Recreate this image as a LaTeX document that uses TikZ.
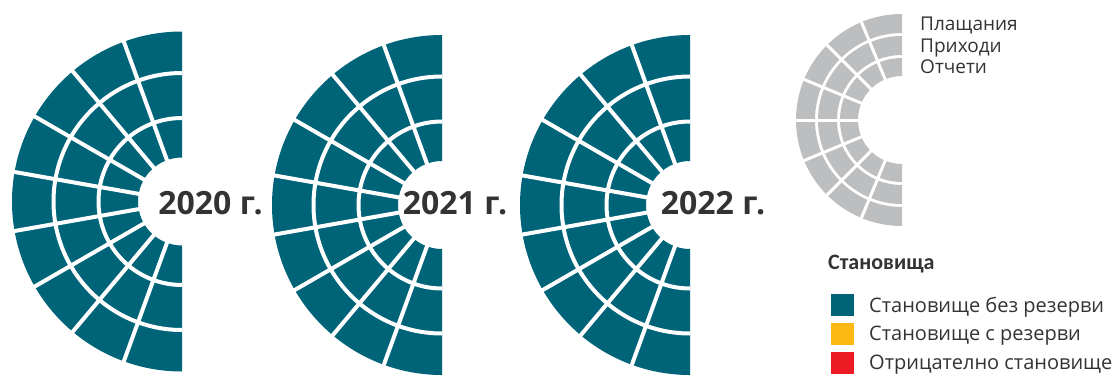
\documentclass[tikz,border=0pt]{standalone}
\usepackage{fontspec}
\setmainfont{Open Sans}
\newfontfamily\carlito{Carlito}
\definecolor{tealc}{HTML}{006479}
\definecolor{grayc}{HTML}{BDBEC0}
\definecolor{yellowc}{HTML}{FDB913}
\definecolor{redc}{HTML}{ED1C24}
\definecolor{textc}{HTML}{333333}
\tikzset{
  ringfill/.style={fill=tealc},
  gapline/.style={draw=white,line width=4pt},
  ggapline/.style={draw=white,line width=3pt},
  yearlabel/.style={font=\bfseries\fontsize{32}{32}\selectfont,text=textc,inner sep=0pt},
  glabel/.style={font=\fontsize{19}{19}\selectfont,text=textc,inner sep=0pt,anchor=base west},
  itemlabel/.style={font=\fontsize{20}{20}\selectfont,text=textc,inner sep=0pt,anchor=base west},
  swatch/.style={minimum width=23pt,minimum height=22pt,inner sep=0pt},
}
\newcommand\yearchart[2]{%
\begin{scope}[shift={(#1,#2)}]
  \fill[ringfill] (90:170pt) arc[start angle=90,end angle=270,radius=170pt] -- (270:44pt) arc[start angle=270,end angle=90,radius=44pt] -- cycle;
  \draw[gapline] (90:83.5pt) arc[start angle=90,end angle=270,radius=83.5pt];
  \draw[gapline] (90:128.5pt) arc[start angle=90,end angle=270,radius=128.5pt];
  \foreach \a in {110,130,...,250} \draw[gapline] (\a:40pt) -- (\a:175pt);
\end{scope}}
\newcommand\grayring[2]{%
  \fill[grayc] (90:#2) arc[start angle=90,end angle=270,radius=#2] -- (270:#1) arc[start angle=270,end angle=90,radius=#1] -- cycle;}
\begin{document}
\begin{tikzpicture}[x=1pt,y=1pt]
\useasboundingbox (0,0) rectangle (1117,376);
\yearchart{182}{174.5}
\yearchart{442}{171}
\yearchart{690}{171}
\node[yearlabel] (y2020) at (210.5,173) {2020 г.};
\node[yearlabel] (y2021) at (455,172.5) {2021 г.};
\node[yearlabel] (y2022) at (713,173) {2022 г.};
% gray legend chart
\begin{scope}[shift={(902,256)}]
  \grayring{44pt}{62pt}
  \grayring{65pt}{84pt}
  \grayring{87pt}{106pt}
  \foreach \a in {112.5,135,157.5,180,202.5,225,247.5} \draw[ggapline] (\a:40pt) -- (\a:110pt);
\end{scope}
\node[glabel] (lpay) at (920,345) {Плащания};
\node[glabel] (linc) at (920,324) {Приходи};
\node[glabel] (lrep) at (920,303) {Отчети};
\node[font=\carlito\bfseries\fontsize{22}{22}\selectfont,text=textc,inner sep=0pt,anchor=base west] (ltitle) at (828,107) {Становища};
\node[swatch,fill=tealc] (s1) at (842.5,71) {};
\node[swatch,fill=yellowc] (s2) at (842.5,42.5) {};
\node[swatch,fill=redc] (s3) at (842.5,13.5) {};
\node[itemlabel] (t1) at (869,64) {Становище без резерви};
\node[itemlabel] (t2) at (869,35.5) {Становище с резерви};
\node[itemlabel] (t3) at (869,6.5) {Отрицателно становище};
\end{tikzpicture}
\end{document}
